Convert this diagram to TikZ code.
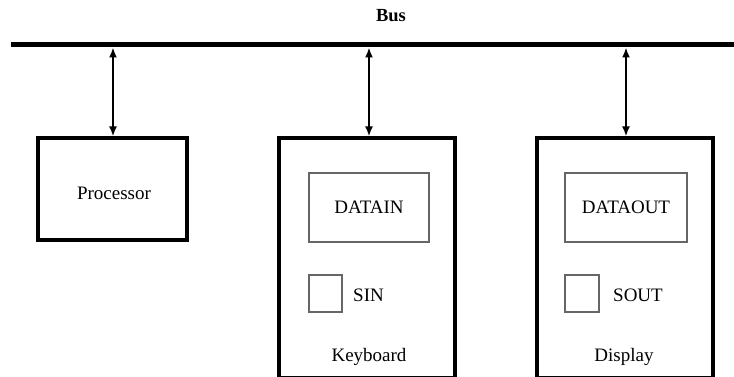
\documentclass[tikz,border=0pt]{standalone}
\usepackage{fontspec}
\setmainfont{Liberation Serif}
\usetikzlibrary{arrows.meta}
\begin{document}
\begin{tikzpicture}[x=1pt,y=-1pt,
  outerbox/.style={draw=black,line width=3.2pt,inner sep=0pt},
  regbox/.style={draw=black!60,line width=2.4pt,inner sep=0pt},
  lbl/.style={font=\fontsize{19}{21}\selectfont,inner sep=0pt},
  link/.style={line width=1.8pt,{Latex[length=10pt,width=8pt]}-{Latex[length=10pt,width=8pt]}}]
\useasboundingbox (0,0) rectangle (734,377);
% bus
\node[font=\bfseries\fontsize{18.5}{20}\selectfont,inner sep=0pt] (buslbl) at (391,16) {Bus};
\coordinate (busL) at (11,45);
\coordinate (busR) at (734,45);
\draw[line width=5pt] (busL) -- (busR);
% processor
\node[outerbox,minimum width=149pt,minimum height=102pt] (proc) at (112.5,189) {};
\node[lbl] (proclbl) at (114,193) {Processor};
% keyboard
\node[outerbox,minimum width=176pt,minimum height=240pt] (kbd) at (367,258) {};
\node[regbox,minimum width=120pt,minimum height=69pt] (datain) at (369,207.5) {};
\node[lbl] at (datain.center) {DATAIN};
\node[regbox,minimum width=33pt,minimum height=37pt] (sin) at (325.5,293.5) {};
\node[lbl,anchor=west] (sinlbl) at (353,295) {SIN};
\node[lbl] (kbdlbl) at (369,357) {Keyboard};
% display
\node[outerbox,minimum width=176pt,minimum height=240pt] (disp) at (625,258) {};
\node[regbox,minimum width=122pt,minimum height=69pt] (dataout) at (626,207.5) {};
\node[lbl] at (dataout.center) {DATAOUT};
\node[regbox,minimum width=34pt,minimum height=37pt] (sout) at (582,293.5) {};
\node[lbl,anchor=west] (soutlbl) at (613,295) {SOUT};
\node[lbl] (displbl) at (624,357) {Display};
% connectors
\coordinate (b1) at (113,47.5);
\coordinate (b2) at (369,47.5);
\coordinate (b3) at (626,47.5);
\draw[link] (b1) -- (b1 |- proc.north);
\draw[link] (b2) -- (b2 |- kbd.north);
\draw[link] (b3) -- (b3 |- disp.north);
\end{tikzpicture}
\end{document}
